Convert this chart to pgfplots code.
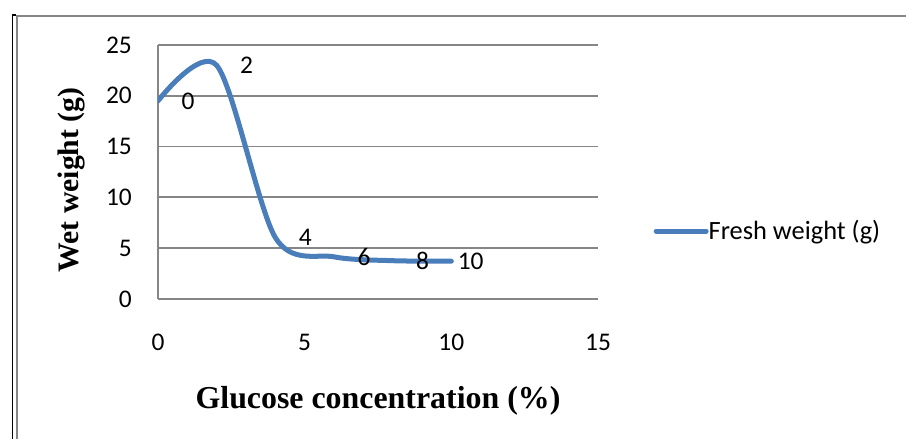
\documentclass[border=0pt]{standalone}
\usepackage{pgfplots}
\usepackage{pgfplotstable}
\pgfplotsset{compat=1.18}
\usepackage{fontspec}
\setmainfont{Carlito}
\newfontfamily\tnr{Liberation Serif}
\definecolor{xlblue}{HTML}{4A7EBB}
\definecolor{xlgrid}{HTML}{868686}

\pgfplotstableread{
x y dx
0 19.5 21
2 23.0 21
4 6.05 21
6 4.15 21
8 3.77 21
10 3.72 4
}\datatable

\begin{document}
\begin{tikzpicture}
\path[use as bounding box] (0,0) rectangle (906bp,439bp);
\draw[black, line width=1.5bp] (12.5bp,0) -- (12.5bp,424bp) -- (16bp,424bp);
\draw[xlgrid, line width=2bp] (17bp,0) -- (17bp,422.5bp) -- (906bp,422.5bp);
\begin{axis}[
  at={(158bp,140bp)}, anchor=south west,
  scale only axis, width=440bp, height=254bp,
  xmin=0, xmax=15, ymin=0, ymax=25,
  xtick={0,5,10,15}, ytick={0,5,...,25},
  axis x line*=bottom, axis y line*=left,
  axis line style={xlgrid, line width=1.8bp, -},
  ymajorgrids, grid style={xlgrid, line width=1.8bp},
  major tick length=0pt,
  tick label style={font=\fontsize{25.5}{30}\selectfont, inner sep=0pt},
  /pgf/number format/assume math mode=true,
  xticklabel style={anchor=base, yshift=-51bp},
  yticklabel style={anchor=east, xshift=-26bp},
  xlabel={Glucose concentration (\%)},
  ylabel={Wet weight (g)},
  xlabel style={font=\tnr\bfseries\fontsize{32}{38}\selectfont,
    at={([yshift=-109bp]axis description cs:0.5,0)}, anchor=base},
  ylabel style={font=\tnr\bfseries\fontsize{29.8}{36}\selectfont,
    at={([xshift=-79bp,yshift=-8bp]axis description cs:0,0.5)}, anchor=base},
  legend style={at={(1.1261,0.2677)}, anchor=west, draw=none, fill=none,
    inner sep=0pt, nodes={inner sep=0pt},
    font=\fontsize{26.5}{31}\selectfont,
    /tikz/every even column/.append style={column sep=4bp}},
  legend image code/.code={\draw[#1, line cap=round] (0bp,0bp) -- (50bp,0bp);},
]
\addplot[xlblue, line width=5bp, smooth, tension=0.5, line cap=round,
  nodes near coords, point meta=explicit symbolic,
  visualization depends on={\thisrow{dx} \as \dx},
  every node near coord/.append style={anchor=west, xshift=\dx bp,
    inner sep=0pt, text=black, font=\fontsize{25.5}{30}\selectfont}
] table[x=x, y=y, meta=x] {\datatable};
\addlegendentry{Fresh weight (g)}
\end{axis}
\end{tikzpicture}
\end{document}
